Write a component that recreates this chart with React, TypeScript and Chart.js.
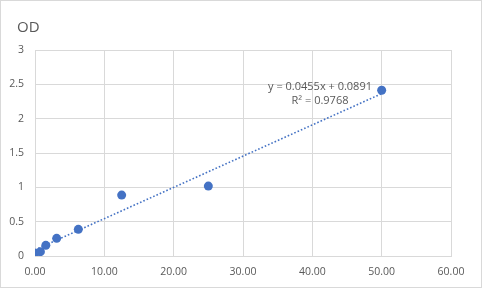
import React, { useEffect, useRef } from "react";
import { Chart, registerables } from "chart.js";

Chart.register(...registerables);

const concentration = [0, 0.78, 1.56, 3.125, 6.25, 12.5, 25, 50];
const odValues = [0.04, 0.063, 0.155, 0.257, 0.388, 0.887, 1.018, 2.414];
const trendSlope = 0.0455;
const trendIntercept = 0.0891;
const rSquared = 0.9768;
const xTicks = [0, 10, 20, 30, 40, 50, 60];
const yTicks = [0, 0.5, 1, 1.5, 2, 2.5, 3];
const chartTitle = "OD";

const TEXT = "#595959";
const GRID = "#d9d9d9";
const BLUE = "#4472C4";
const FONT = "'Open Sans', 'DejaVu Sans', sans-serif";

export default function App() {
  const ref = useRef<HTMLCanvasElement | null>(null);

  useEffect(() => {
    if (!ref.current) return;
    const xMin = Math.min(...concentration);
    const xMax = Math.max(...concentration);
    const trend = [
      { x: xMin, y: trendSlope * xMin + trendIntercept },
      { x: xMax, y: trendSlope * xMax + trendIntercept },
    ];

    const decor = {
      id: "decor",
      beforeDraw(chart: any) {
        const ctx = chart.ctx;
        ctx.save();
        ctx.fillStyle = "#ffffff";
        ctx.fillRect(0, 0, chart.width, chart.height);
        ctx.restore();
      },
      afterDraw(chart: any) {
        const ctx = chart.ctx;
        ctx.save();
        ctx.strokeStyle = GRID;
        ctx.lineWidth = 1;
        ctx.strokeRect(0.5, 0.5, chart.width - 1, chart.height - 1);
        ctx.fillStyle = TEXT;
        ctx.font = `15px ${FONT}`;
        ctx.textAlign = "left";
        ctx.textBaseline = "alphabetic";
        ctx.fillText(chartTitle, 17, 32);
        ctx.font = `11px ${FONT}`;
        ctx.textAlign = "center";
        ctx.textBaseline = "middle";
        ctx.fillText(
          `y = ${trendSlope.toFixed(4)}x + ${trendIntercept.toFixed(4)}`,
          320,
          87
        );
        ctx.fillText(`R² = ${rSquared.toFixed(4)}`, 320, 101);
        ctx.restore();
      },
    };

    const chart = new Chart(ref.current, {
      type: "scatter",
      data: {
        datasets: [
          {
            label: "OD",
            data: concentration.map((x, i) => ({ x, y: odValues[i] })),
            backgroundColor: BLUE,
            borderColor: BLUE,
            pointRadius: 4.5,
            pointBorderWidth: 0,
          },
          {
            label: "trend",
            type: "line",
            data: trend,
            borderColor: BLUE,
            borderWidth: 1.6,
            borderDash: [1.6, 2],
            pointRadius: 0,
            showLine: true,
            fill: false,
          } as any,
        ],
      },
      options: {
        animation: false,
        responsive: false,
        devicePixelRatio: 1,
        layout: { padding: { top: 50, right: 31, left: 0, bottom: 0 } },
        plugins: {
          legend: { display: false },
          title: { display: false },
          tooltip: { enabled: false },
        },
        scales: {
          x: {
            type: "linear",
            min: 0,
            max: 60,
            afterBuildTicks: (s: any) => {
              s.ticks = xTicks.map((v) => ({ value: v }));
            },
            afterFit: (s: any) => {
              s.height = 32;
            },
            ticks: {
              color: TEXT,
              font: { family: FONT, size: 10.5 },
              padding: 10,
              maxRotation: 0,
              callback: (v: any) => Number(v).toFixed(2),
            },
            grid: { color: GRID, lineWidth: 1, drawTicks: false },
            border: { color: GRID, width: 1 },
          },
          y: {
            type: "linear",
            min: 0,
            max: 3,
            afterBuildTicks: (s: any) => {
              s.ticks = yTicks.map((v) => ({ value: v }));
            },
            afterFit: (s: any) => {
              s.width = 35;
            },
            ticks: {
              color: TEXT,
              font: { family: FONT, size: 10.5 },
              padding: 11,
              callback: (v: any) => String(v),
            },
            grid: { color: GRID, lineWidth: 1, drawTicks: false },
            border: { color: GRID, width: 1 },
          },
        },
      },
      plugins: [decor],
    });
    return () => chart.destroy();
  }, []);

  return (
    <div style={{ position: "absolute", left: 0, top: 0, width: 482, height: 288 }}>
      <canvas ref={ref} width={482} height={288} style={{ display: "block", width: 482, height: 288 }} />
    </div>
  );
}
